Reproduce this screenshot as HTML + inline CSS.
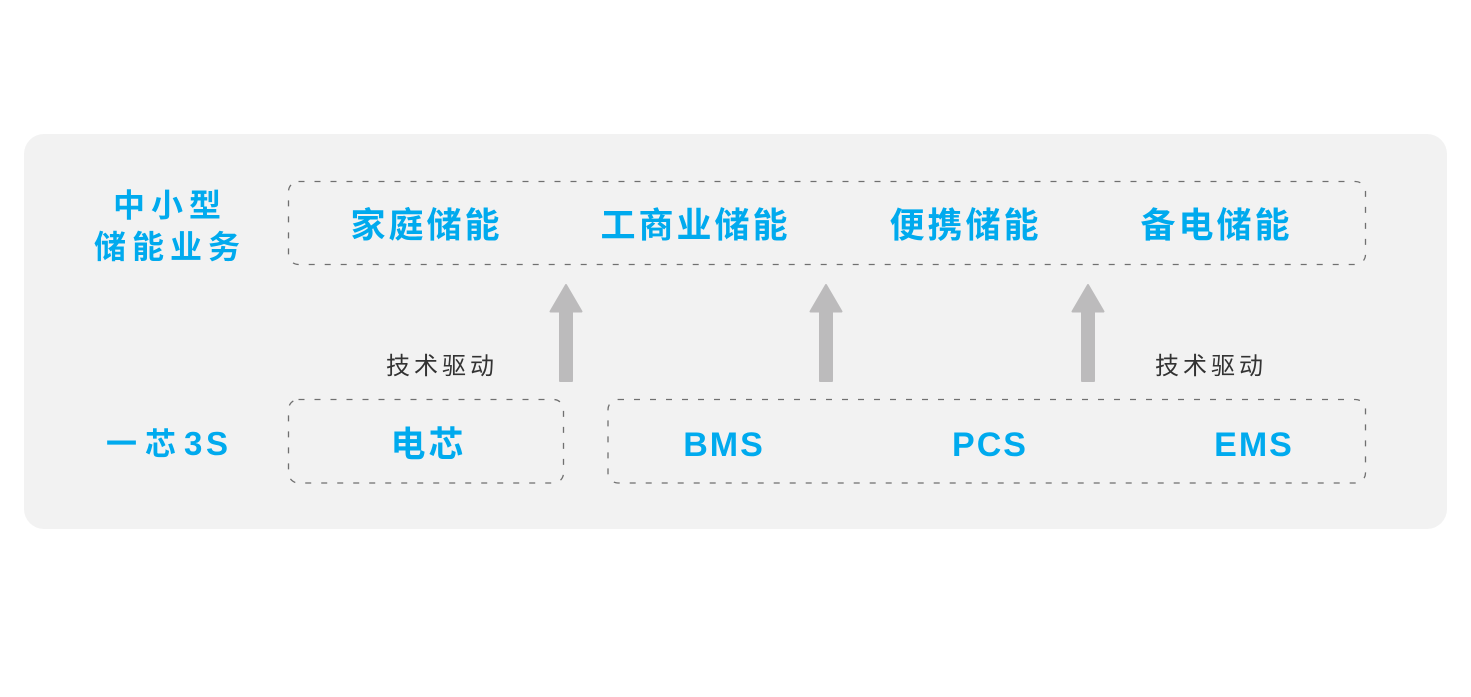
<!DOCTYPE html>
<html>
<head>
<meta charset="utf-8">
<style>
  html, body { margin: 0; padding: 0; background: #ffffff; }
  body { width: 1471px; height: 697px; overflow: hidden; }
  svg { display: block; }
  .blue { fill: #00aaee; font-family: "Liberation Sans", "Noto Sans CJK SC", sans-serif; font-weight: bold; }
  .dark { fill: #333333; font-family: "Liberation Sans", "Noto Sans CJK SC", sans-serif; font-weight: normal; }
</style>
</head>
<body>
<svg width="1471" height="697" viewBox="0 0 1471 697" xmlns="http://www.w3.org/2000/svg">
  <!-- background panel -->
  <rect x="24" y="134" width="1423" height="395" rx="20" ry="20" fill="#f2f2f2"/>

  <!-- dashed boxes -->
  <rect x="288.5" y="181.5" width="1077" height="83" rx="10" ry="10" fill="none" stroke="#707070" stroke-width="1.3" stroke-dasharray="6 10"/>
  <rect x="288.5" y="399.5" width="275" height="83.5" rx="10" ry="10" fill="none" stroke="#707070" stroke-width="1.3" stroke-dasharray="6 10"/>
  <rect x="608" y="399.5" width="757.5" height="83.5" rx="10" ry="10" fill="none" stroke="#707070" stroke-width="1.3" stroke-dasharray="6 10"/>

  <!-- arrows -->
  <g fill="#bcbbbc" stroke="#bcbbbc" stroke-width="2" stroke-linejoin="round">
    <polygon points="566,285 581.5,311.5 572,311.5 572,381 560,381 560,311.5 550.5,311.5"/>
    <polygon points="826,285 841.5,311.5 832,311.5 832,381 820,381 820,311.5 810.5,311.5"/>
    <polygon points="1088,285 1103.5,311.5 1094,311.5 1094,381 1082,381 1082,311.5 1072.5,311.5"/>
  </g>

  <!-- left labels -->
  <text class="blue" x="170" y="216.5" font-size="32" letter-spacing="6" text-anchor="middle">中小型</text>
  <text class="blue" x="170" y="258" font-size="32" letter-spacing="6" text-anchor="middle">储能业务</text>
  <text class="blue" y="455" font-size="31">
    <tspan x="106">一</tspan><tspan x="145">芯</tspan><tspan x="184" font-size="33">3</tspan><tspan x="206" font-size="33">S</tspan>
  </text>

  <!-- top row labels -->
  <text class="blue" x="426.5" y="237.5" font-size="35" letter-spacing="3" text-anchor="middle">家庭储能</text>
  <text class="blue" x="695.5" y="237.5" font-size="35" letter-spacing="3" text-anchor="middle">工商业储能</text>
  <text class="blue" x="965.5" y="237.5" font-size="35" letter-spacing="3" text-anchor="middle">便携储能</text>
  <text class="blue" x="1216.5" y="237.5" font-size="35" letter-spacing="3" text-anchor="middle">备电储能</text>

  <!-- driver captions -->
  <text class="dark" x="442" y="374" font-size="24" letter-spacing="4" text-anchor="middle">技术驱动</text>
  <text class="dark" x="1211" y="374" font-size="24" letter-spacing="4" text-anchor="middle">技术驱动</text>

  <!-- bottom row labels -->
  <text class="blue" x="428.5" y="456.5" font-size="35" letter-spacing="3" text-anchor="middle">电芯</text>
  <text class="blue" x="724" y="456" font-size="34" letter-spacing="2" text-anchor="middle">BMS</text>
  <text class="blue" x="990" y="456" font-size="34" letter-spacing="2" text-anchor="middle">PCS</text>
  <text class="blue" x="1254" y="456" font-size="34" letter-spacing="2" text-anchor="middle">EMS</text>
</svg>
</body>
</html>
